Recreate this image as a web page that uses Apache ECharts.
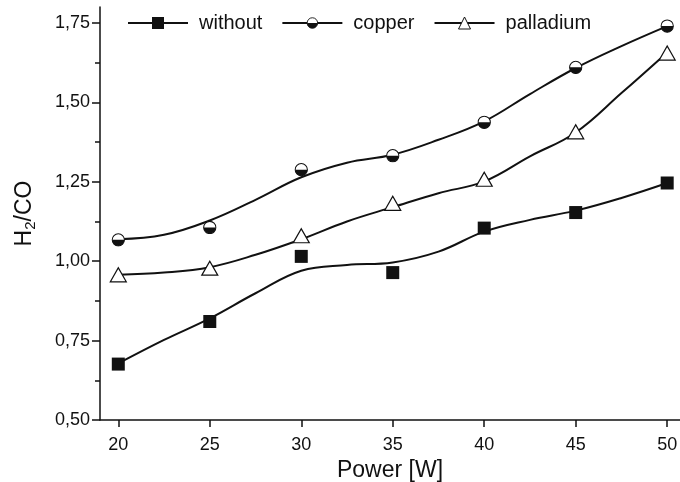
<!DOCTYPE html>
<html>
<head>
<meta charset="utf-8">
<script src="https://cdn.jsdelivr.net/npm/echarts@6/dist/echarts.min.js"></script>
<style>
  html, body { margin: 0; padding: 0; background: #fff; }
  #chart { width: 680px; height: 482px; }
</style>
</head>
<body>
<div id="chart"></div>
<script>
// measured points
var powerX = [20, 25, 30, 35, 40, 45, 50];
var withoutVals = [0.676, 0.810, 1.015, 0.964, 1.104, 1.153, 1.246];
var copperVals = [1.067, 1.106, 1.288, 1.332, 1.437, 1.610, 1.740];
var palladiumVals = [0.957, 0.978, 1.080, 1.182, 1.258, 1.407, 1.655];

// fitted curves (every 2.5 W)
var fitX = [20, 22.5, 25, 27.5, 30, 32.5, 35, 37.5, 40, 42.5, 45, 47.5, 50];
var withoutFit = [0.678, 0.752, 0.820, 0.899, 0.970, 0.988, 0.996, 1.030, 1.093, 1.130, 1.159, 1.199, 1.246];
var copperFit = [1.069, 1.083, 1.128, 1.193, 1.264, 1.310, 1.335, 1.382, 1.440, 1.526, 1.608, 1.677, 1.740];
var palladiumFit = [0.957, 0.964, 0.981, 1.020, 1.069, 1.125, 1.170, 1.214, 1.251, 1.330, 1.405, 1.529, 1.657];

var xTicks = [20, 25, 30, 35, 40, 45, 50];
var yTicks = [0.50, 0.75, 1.00, 1.25, 1.50, 1.75];
var yMinorTicks = [0.625, 0.875, 1.125, 1.375, 1.625];

function pairs(xs, ys) {
    return xs.map(function (x, i) { return [x, ys[i]]; });
}

var halfCircleSvg = '<svg xmlns="http://www.w3.org/2000/svg" width="40" height="40" viewBox="0 0 40 40">' +
    '<circle cx="20" cy="20" r="17.5" fill="#fff" stroke="#111" stroke-width="3"/>' +
    '<path d="M2.5,20 A17.5,17.5 0 0 0 37.5,20 Z" fill="#111"/>' +
    '</svg>';
var halfCircle = 'image://data:image/svg+xml;charset=utf-8,' + encodeURIComponent(halfCircleSvg);

var font = '"Liberation Sans", Arial, sans-serif';
var ink = '#111';

var myChart = echarts.init(document.getElementById('chart'));

var option = {
    animation: false,
    backgroundColor: '#fff',
    textStyle: { fontFamily: font },
    grid: { left: 100, right: 0, top: 7, bottom: 62, outerBoundsMode: 'none' },
    legend: {
        top: 8,
        left: 122,
        itemWidth: 60,
        itemHeight: 15,
        itemGap: 19,
        textStyle: { fontSize: 20, color: ink, fontFamily: font, padding: [0, 0, 0, 6] },
        data: [
            { name: 'without', itemStyle: { color: ink, borderWidth: 0 } },
            { name: 'copper' },
            { name: 'palladium', itemStyle: { color: '#fff', borderColor: ink, borderWidth: 1 } }
        ]
    },
    xAxis: {
        type: 'value',
        min: 19,
        max: 50.7,
        name: 'Power [W]',
        nameLocation: 'middle',
        nameGap: 35,
        nameTextStyle: { fontSize: 23, color: ink, fontFamily: font },
        splitLine: { show: false },
        axisLine: { lineStyle: { color: ink, width: 1.5 } },
        axisTick: { customValues: xTicks, length: 7, lineStyle: { color: ink, width: 1.5 } },
        axisLabel: { customValues: xTicks, fontSize: 18, color: ink, margin: 16, fontFamily: font }
    },
    yAxis: [{
        type: 'value',
        min: 0.5,
        max: 1.8,
        name: '{n|H}{s|2}{n|/CO}',
        nameLocation: 'middle',
        nameGap: 62,
        nameRotate: 90,
        nameTextStyle: {
            color: ink,
            rich: {
                n: { fontSize: 23, color: ink, fontFamily: font },
                s: { fontSize: 15, color: ink, fontFamily: font, padding: [12, 0, 0, 0] }
            }
        },
        splitLine: { show: false },
        axisLine: { lineStyle: { color: ink, width: 1.5 } },
        axisTick: { customValues: yTicks, length: 8, lineStyle: { color: ink, width: 1.5 } },
        axisLabel: {
            customValues: yTicks, fontSize: 18, color: ink, margin: 10, fontFamily: font,
            formatter: function (v) { return v.toFixed(2).replace('.', ','); }
        }
    }, {
        type: 'value',
        position: 'left',
        min: 0.5,
        max: 1.8,
        splitLine: { show: false },
        axisLine: { show: false },
        axisLabel: { show: false },
        axisTick: { customValues: yMinorTicks, length: 5, lineStyle: { color: ink, width: 1.5 } }
    }],
    series: [
        {
            name: 'without', type: 'line', smooth: 0.4, showSymbol: false,
            symbol: 'rect', data: pairs(fitX, withoutFit),
            itemStyle: { color: ink },
            lineStyle: { color: ink, width: 2 }
        },
        {
            name: 'copper', type: 'line', smooth: 0.4, showSymbol: false,
            symbol: halfCircle, data: pairs(fitX, copperFit),
            itemStyle: { color: ink },
            lineStyle: { color: ink, width: 2 }
        },
        {
            name: 'palladium', type: 'line', smooth: 0.4, showSymbol: false,
            symbol: 'triangle', data: pairs(fitX, palladiumFit),
            itemStyle: { color: '#fff', borderColor: ink, borderWidth: 1 },
            lineStyle: { color: ink, width: 2 }
        },
        {
            name: 'without points', type: 'scatter', symbol: 'rect', symbolSize: 13,
            data: pairs(powerX, withoutVals), itemStyle: { color: ink, opacity: 1 }, z: 3
        },
        {
            name: 'copper points', type: 'scatter', symbol: halfCircle, symbolSize: 14,
            data: pairs(powerX, copperVals), itemStyle: { opacity: 1 }, z: 3
        },
        {
            name: 'palladium points', type: 'scatter', symbol: 'triangle', symbolSize: [16, 14],
            data: pairs(powerX, palladiumVals),
            itemStyle: { color: '#fff', borderColor: ink, borderWidth: 1.2, opacity: 1 }, z: 3
        }
    ]
};

myChart.setOption(option);
</script>
</body>
</html>
